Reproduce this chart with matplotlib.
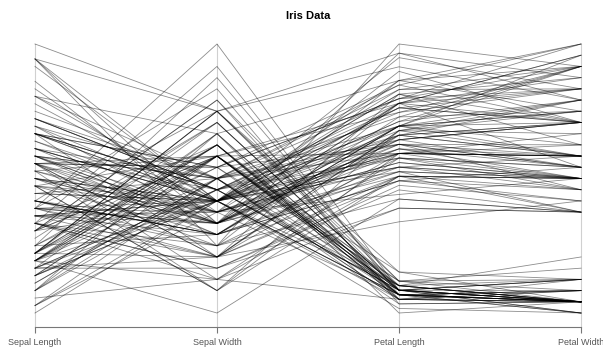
import numpy as np
import matplotlib
matplotlib.use("Agg")
import matplotlib.pyplot as plt

variables = ["Sepal Length", "Sepal Width", "Petal Length", "Petal Width"]

sepal_length = [
    5.1,4.9,4.7,4.6,5.0,5.4,4.6,5.0,4.4,4.9,5.4,4.8,4.8,4.3,5.8,5.7,5.4,5.1,5.7,5.1,5.4,5.1,4.6,5.1,4.8,
    5.0,5.0,5.2,5.2,4.7,4.8,5.4,5.2,5.5,4.9,5.0,5.5,4.9,4.4,5.1,5.0,4.5,4.4,5.0,5.1,4.8,5.1,4.6,5.3,5.0,
    7.0,6.4,6.9,5.5,6.5,5.7,6.3,4.9,6.6,5.2,5.0,5.9,6.0,6.1,5.6,6.7,5.6,5.8,6.2,5.6,5.9,6.1,6.3,6.1,6.4,
    6.6,6.8,6.7,6.0,5.7,5.5,5.5,5.8,6.0,5.4,6.0,6.7,6.3,5.6,5.5,5.5,6.1,5.8,5.0,5.6,5.7,5.7,6.2,5.1,5.7,
    6.3,5.8,7.1,6.3,6.5,7.6,4.9,7.3,6.7,7.2,6.5,6.4,6.8,5.7,5.8,6.4,6.5,7.7,7.7,6.0,6.9,5.6,7.7,6.3,6.7,
    7.2,6.2,6.1,6.4,7.2,7.4,7.9,6.4,6.3,6.1,7.7,6.3,6.4,6.0,6.9,6.7,6.9,5.8,6.8,6.7,6.7,6.3,6.5,6.2,5.9]
sepal_width = [
    3.5,3.0,3.2,3.1,3.6,3.9,3.4,3.4,2.9,3.1,3.7,3.4,3.0,3.0,4.0,4.4,3.9,3.5,3.8,3.8,3.4,3.7,3.6,3.3,3.4,
    3.0,3.4,3.5,3.4,3.2,3.1,3.4,4.1,4.2,3.1,3.2,3.5,3.6,3.0,3.4,3.5,2.3,3.2,3.5,3.8,3.0,3.8,3.2,3.7,3.3,
    3.2,3.2,3.1,2.3,2.8,2.8,3.3,2.4,2.9,2.7,2.0,3.0,2.2,2.9,2.9,3.1,3.0,2.7,2.2,2.5,3.2,2.8,2.5,2.8,2.9,
    3.0,2.8,3.0,2.9,2.6,2.4,2.4,2.7,2.7,3.0,3.4,3.1,2.3,3.0,2.5,2.6,3.0,2.6,2.3,2.7,3.0,2.9,2.9,2.5,2.8,
    3.3,2.7,3.0,2.9,3.0,3.0,2.5,2.9,2.5,3.6,3.2,2.7,3.0,2.5,2.8,3.2,3.0,3.8,2.6,2.2,3.2,2.8,2.8,2.7,3.3,
    3.2,2.8,3.0,2.8,3.0,2.8,3.8,2.8,2.8,2.6,3.0,3.4,3.1,3.0,3.1,3.1,3.1,2.7,3.2,3.3,3.0,2.5,3.0,3.4,3.0]
petal_length = [
    1.4,1.4,1.3,1.5,1.4,1.7,1.4,1.5,1.4,1.5,1.5,1.6,1.4,1.1,1.2,1.5,1.3,1.4,1.7,1.5,1.7,1.5,1.0,1.7,1.9,
    1.6,1.6,1.5,1.4,1.6,1.6,1.5,1.5,1.4,1.5,1.2,1.3,1.4,1.3,1.5,1.3,1.3,1.3,1.6,1.9,1.4,1.6,1.4,1.5,1.4,
    4.7,4.5,4.9,4.0,4.6,4.5,4.7,3.3,4.6,3.9,3.5,4.2,4.0,4.7,3.6,4.4,4.5,4.1,4.5,3.9,4.8,4.0,4.9,4.7,4.3,
    4.4,4.8,5.0,4.5,3.5,3.8,3.7,3.9,5.1,4.5,4.5,4.7,4.4,4.1,4.0,4.4,4.6,4.0,3.3,4.2,4.2,4.2,4.3,3.0,4.1,
    6.0,5.1,5.9,5.6,5.8,6.6,4.5,6.3,5.8,6.1,5.1,5.3,5.5,5.0,5.1,5.3,5.5,6.7,6.9,5.0,5.7,4.9,6.7,4.9,5.7,
    6.0,4.8,4.9,5.6,5.8,6.1,6.4,5.6,5.1,5.6,6.1,5.6,5.5,4.8,5.4,5.6,5.1,5.1,5.9,5.7,5.2,5.0,5.2,5.4,5.1]
petal_width = [
    0.2,0.2,0.2,0.2,0.2,0.4,0.3,0.2,0.2,0.1,0.2,0.2,0.1,0.1,0.2,0.4,0.4,0.3,0.3,0.3,0.2,0.4,0.2,0.5,0.2,
    0.2,0.4,0.2,0.2,0.2,0.2,0.4,0.1,0.2,0.2,0.2,0.2,0.1,0.2,0.2,0.3,0.3,0.2,0.6,0.4,0.3,0.2,0.2,0.2,0.2,
    1.4,1.5,1.5,1.3,1.5,1.3,1.6,1.0,1.3,1.4,1.0,1.5,1.0,1.4,1.3,1.4,1.5,1.0,1.5,1.1,1.8,1.3,1.5,1.2,1.3,
    1.4,1.4,1.7,1.5,1.0,1.1,1.0,1.2,1.6,1.5,1.6,1.5,1.3,1.3,1.3,1.2,1.4,1.2,1.0,1.3,1.2,1.3,1.3,1.1,1.3,
    2.5,1.9,2.1,1.8,2.2,2.1,1.7,1.8,1.8,2.5,2.0,1.9,2.1,2.0,2.4,2.3,1.8,2.2,2.3,1.5,2.3,2.0,2.0,1.8,2.1,
    1.8,1.8,1.8,2.1,1.6,1.9,2.0,2.2,1.5,1.4,2.3,2.4,1.8,1.8,2.1,2.4,2.3,1.9,2.3,2.5,2.3,1.9,2.0,2.3,1.8]

data = np.array([sepal_length, sepal_width, petal_length, petal_width], dtype=float)
mins = data.min(axis=1, keepdims=True)
maxs = data.max(axis=1, keepdims=True)
norm = (data - mins) / (maxs - mins)

plt.rcParams['font.family'] = ['Liberation Sans', 'DejaVu Sans']
fig = plt.figure(figsize=(6.03, 3.5), dpi=100)
ax = fig.add_axes([35/603, 23/350, (581-35)/603, (327-44)/350])

xs = np.arange(len(variables))
ymin = -0.052
for i in xs:
    ax.plot([i, i], [ymin, 1.0], color="#d0d0d0", lw=0.8, zorder=1, clip_on=False)

for k in range(norm.shape[1]):
    ax.plot(xs, norm[:, k], color="black", alpha=0.45, lw=0.6, zorder=2, clip_on=False)

ax.set_xlim(0, len(variables) - 1)
ax.set_ylim(ymin, 1.0)
for s in ["top", "left", "right"]:
    ax.spines[s].set_visible(False)
ax.spines["bottom"].set_color("#777777")
ax.spines["bottom"].set_linewidth(0.8)
ax.set_yticks([])
ax.set_xticks(xs)
ax.set_xticklabels(variables, fontsize=6.5, color="#555555")
ax.tick_params(axis="x", length=4, width=0.8, color="#777777", pad=4)
fig.suptitle("Iris Data", x=308/603, y=1 - 16/350, va="center", fontsize=8, fontweight="bold")

fig.savefig("out.png", dpi=100)
